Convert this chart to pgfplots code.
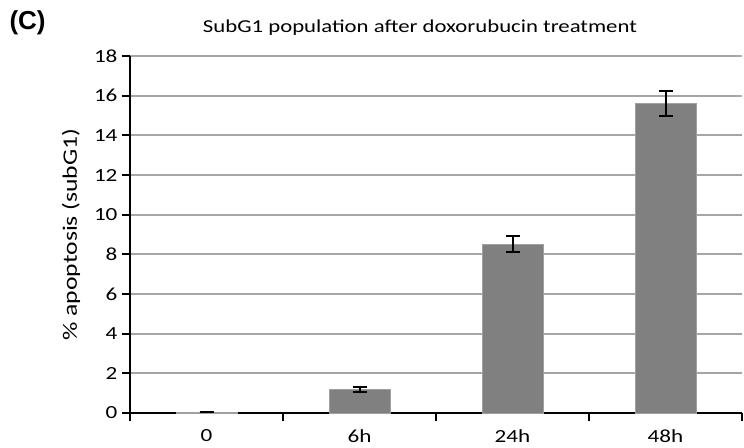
\documentclass[border=0pt]{standalone}
\usepackage{fontspec}
\setmainfont{Carlito}[FakeStretch=1.25]
\newfontfamily\arialfont{Liberation Sans}
\usepackage{pgfplots}
\pgfplotsset{compat=1.18}
\definecolor{barfill}{HTML}{808080}
\definecolor{gridc}{HTML}{A6A6A6}
\begin{document}
\begin{tikzpicture}
\begin{axis}[
  scale only axis,
  width=612pt, height=357pt,
  xmin=-0.5, xmax=3.5, ymin=0, ymax=18,
  axis x line=bottom, axis y line=left,
  axis line style={-, black, line width=2.2pt},
  xtick={0,1,2,3},
  xticklabels={0,6h,24h,48h},
  minor xtick={-0.5,0.5,1.5,2.5,3.5},
  x tick style={draw=none},
  minor x tick style={draw=black, line width=2.2pt},
  minor tick length=8pt,
  ytick={0,2,...,18},
  y tick style={black, line width=2.2pt},
  major tick length=8pt,
  tick align=outside,
  ymajorgrids,
  major grid style={gridc, line width=2pt},
  /pgf/number format/assume math mode=true,
  tick label style={font=\fontsize{18.5}{22}\selectfont},
  xticklabel style={yshift=-5pt},
  yticklabel style={xshift=-1pt},
  clip=false,
]
\addplot[ybar, bar width=61pt, fill=barfill, draw=barfill!75!white, line width=1pt,
  error bars/.cd, y dir=both, y explicit,
  error bar style={black, line width=2pt},
  error mark options={rotate=90, mark size=7pt, black, line width=2pt}]
coordinates {
  (0,0.05) +- (0,0)
  (1,1.2) +- (0,0.13)
  (2,8.5) +- (0,0.4)
  (3,15.6) +- (0,0.63)
};
\coordinate (bl) at (rel axis cs:0,0);
\coordinate (tr) at (rel axis cs:1,1);
\coordinate (ml) at (rel axis cs:0,0.5);
\end{axis}
\pgfresetboundingbox
\path[use as bounding box] ([xshift=-130pt,yshift=-34pt]bl) rectangle ([xshift=2pt,yshift=56pt]tr);
\node[rotate=90, font=\fontsize{20.5}{24}\selectfont] at ([xshift=-59pt]ml) {\% apoptosis (subG1)};
\node[font=\fontsize{18.2}{22}\selectfont] at ([xshift=-130pt+420pt, yshift=56pt-28pt]bl |- tr) {SubG1 population after doxorubucin treatment};
\node[font=\arialfont\bfseries\fontsize{26}{30}\selectfont, anchor=west] at ([xshift=-130pt+6pt, yshift=56pt-23pt]bl |- tr) {(C)};
\end{tikzpicture}
\end{document}
